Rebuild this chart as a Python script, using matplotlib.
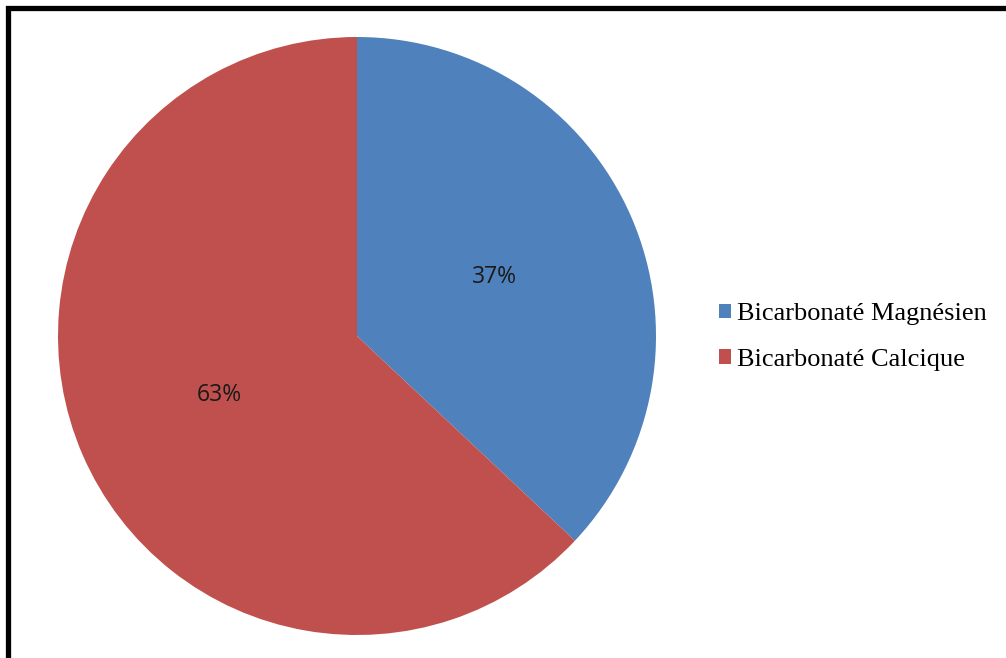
import matplotlib

matplotlib.use("Agg")
import matplotlib.pyplot as plt
from matplotlib.lines import Line2D

# share of each water facies
categories = ["Bicarbonaté Magnésien", "Bicarbonaté Calcique"]
shares = [37, 63]
colors = ["#4F81BD", "#C0504D"]

W, H = 1006, 658
fig = plt.figure(figsize=(W / 100, H / 100), dpi=100)
fig.patch.set_facecolor("white")

# pie area: centre (357, 336) px, radius 299 px
cx, cy, r = 357, 336, 299
ax = fig.add_axes([(cx - r) / W, (H - cy - r) / H, 2 * r / W, 2 * r / H])
wedges, _, pct_texts = ax.pie(
    shares,
    colors=colors,
    startangle=90,
    counterclock=False,
    autopct=lambda p: f"{p:.0f}%",
    pctdistance=0.5,
    textprops={"family": "Open Sans", "fontsize": 16.5, "color": "#1a1a1a"},
)
ax.set_xlim(-1, 1)
ax.set_ylim(-1, 1)
ax.set_aspect("equal")
ax.axis("off")

fig.legend(
    wedges,
    categories,
    loc="center left",
    bbox_to_anchor=(719 / W, 1 - 337 / H),
    frameon=False,
    borderpad=0,
    borderaxespad=0,
    prop={"family": "Liberation Serif", "size": 19},
    handlelength=0.45,
    handleheight=0.45,
    handletextpad=0.25,
    labelspacing=0.9,
)

# heavy black frame along the top and left edge
frame = Line2D([7.5 / W, 7.5 / W, 1.0], [0.0, 1 - 7.5 / H, 1 - 7.5 / H],
               transform=fig.transFigure, color="black", linewidth=3.8,
               solid_joinstyle="miter")
fig.add_artist(frame)

fig.savefig("out.png", dpi=100)
